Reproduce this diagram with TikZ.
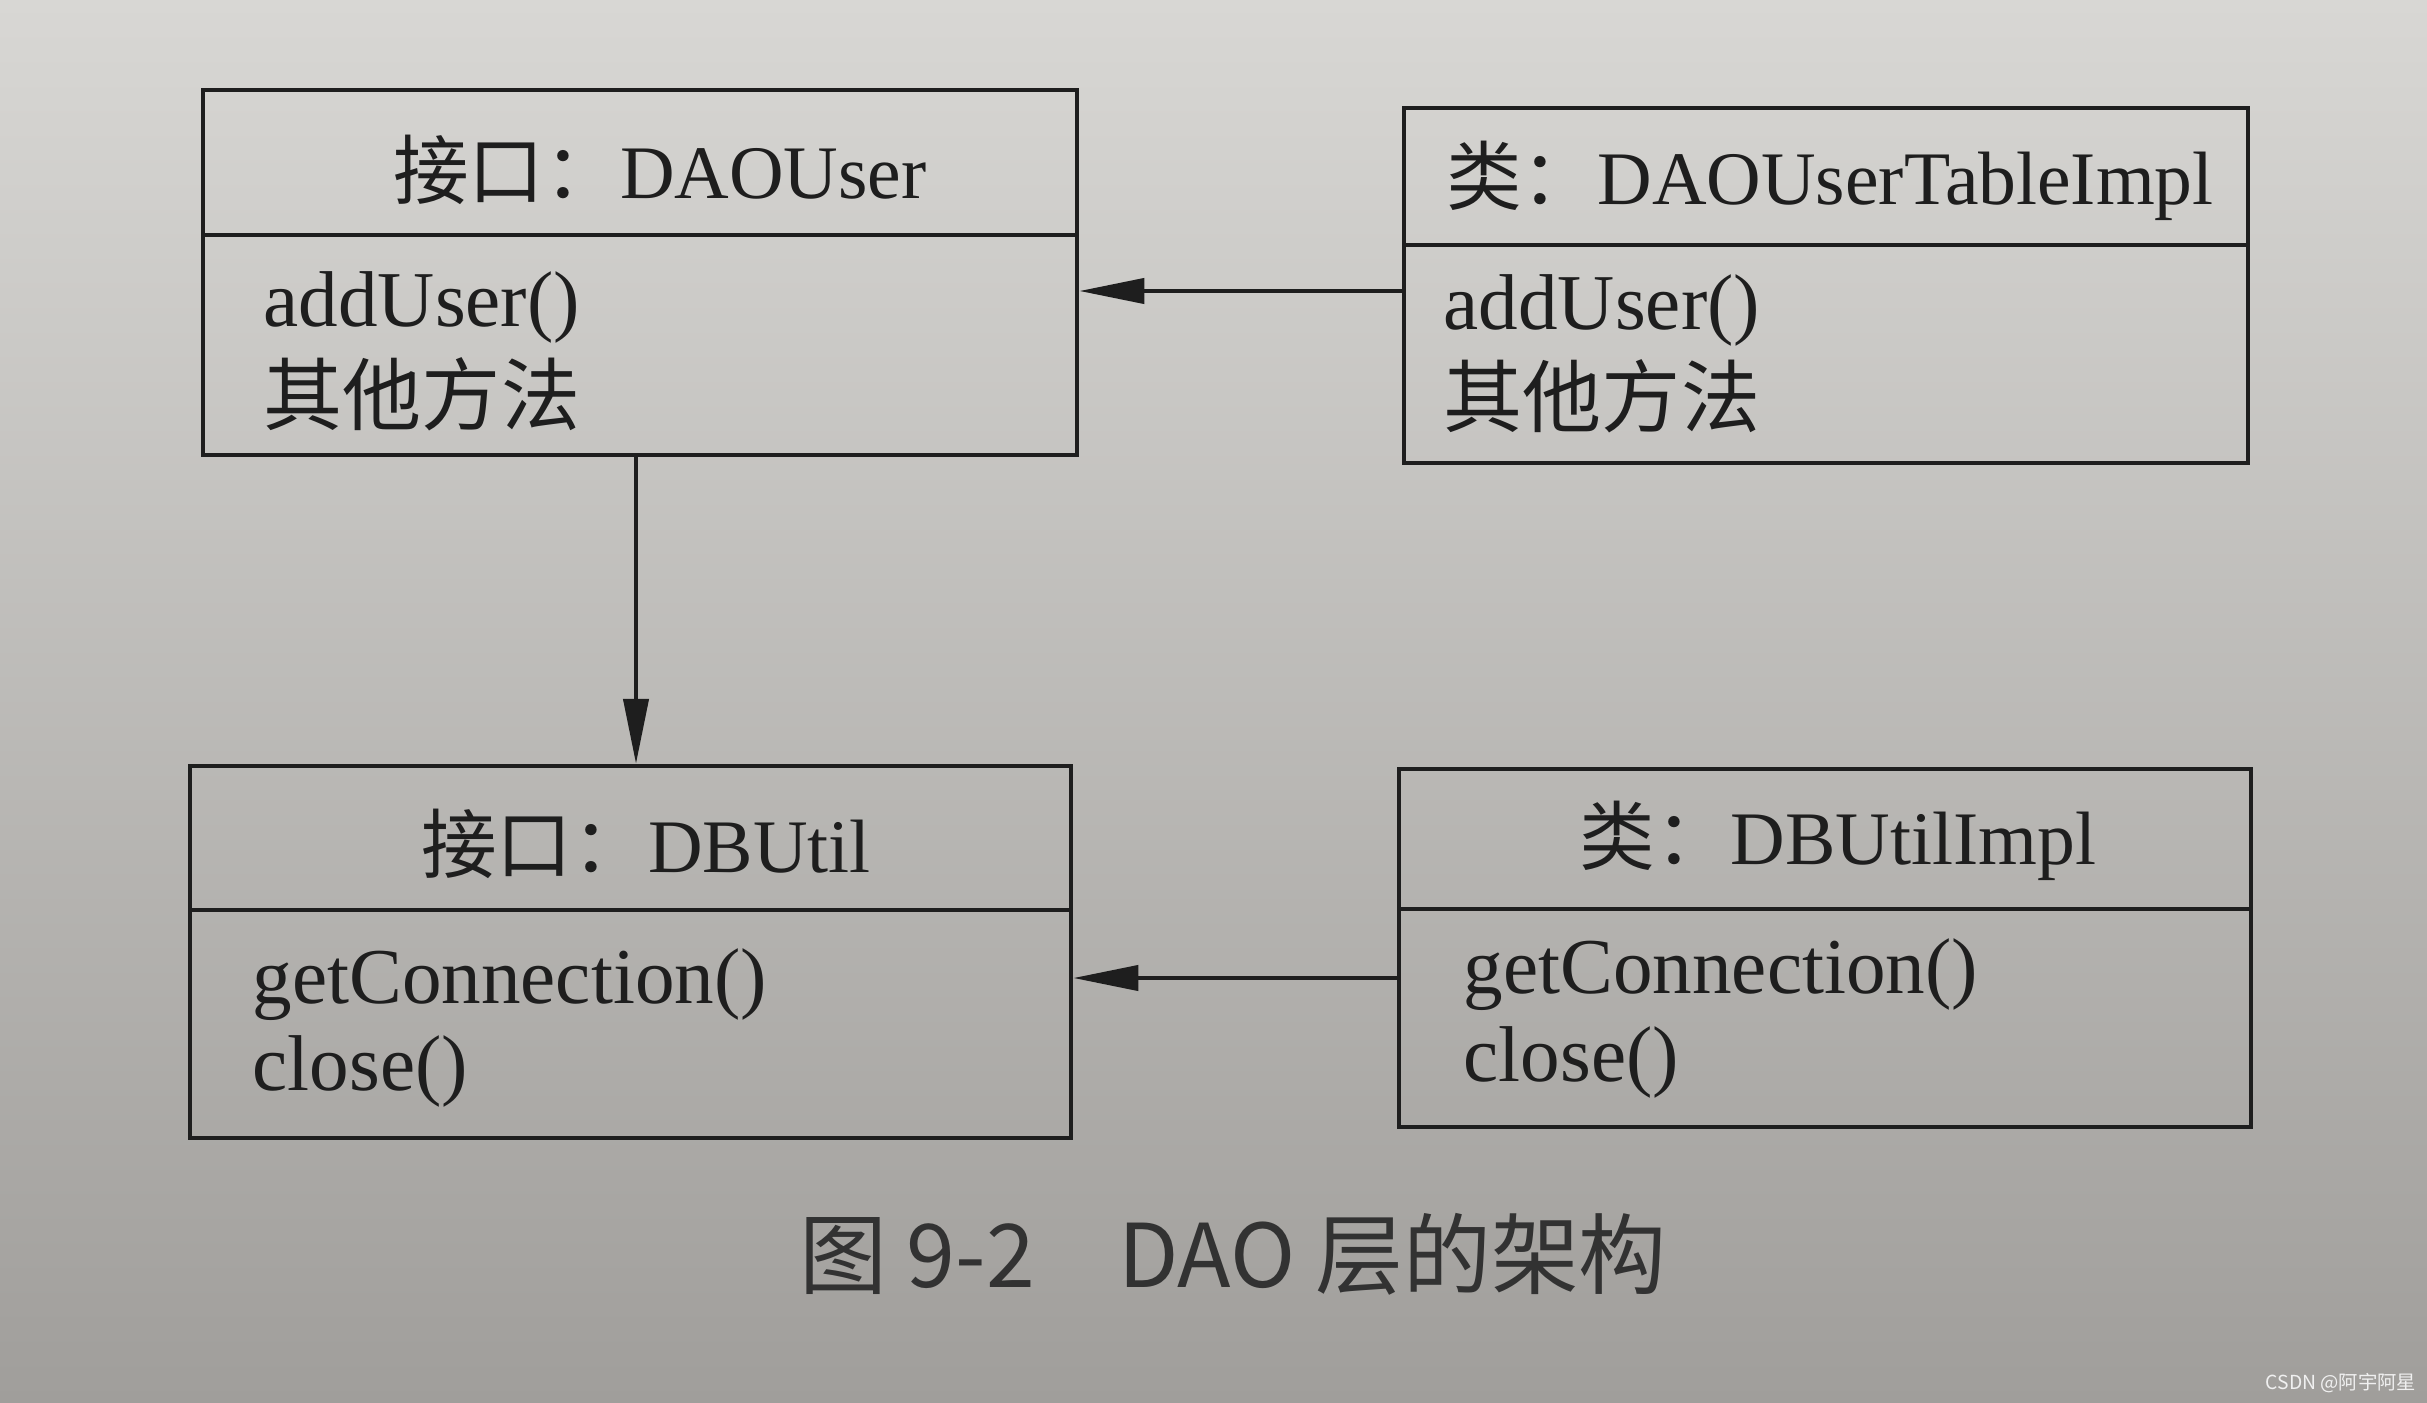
\documentclass[tikz,border=0pt]{standalone}
\usepackage{fontspec}
\setmainfont{Liberation Serif}
\newfontfamily\cjk{Noto Sans CJK SC}
\usetikzlibrary{arrows.meta}
\definecolor{bgtop}{RGB}{216,215,212}
\definecolor{bgbot}{RGB}{160,158,155}
\definecolor{ink}{RGB}{30,30,30}
\definecolor{capink}{RGB}{50,50,50}
\begin{document}
\begin{tikzpicture}[x=0.01cm,y=-0.01cm,
  umlbox/.style={draw=ink,line width=1.2pt,inner sep=0pt},
  title/.style={font=\fontsize{21.5}{26}\selectfont,text=ink,inner sep=0pt,anchor=center},
  body/.style={font=\fontsize{22.5}{26}\selectfont,text=ink,inner sep=0pt,anchor=west},
  conn/.style={draw=ink,line width=1.2pt,-{Triangle[length=0.65cm,width=0.25cm]}}]
\shade[top color=bgtop,bottom color=bgbot] (0,0) rectangle (2427,1403);
\useasboundingbox (0,0) rectangle (2427,1403);
% boxes
\node[umlbox,minimum width=8.74cm,minimum height=3.65cm] (b1) at ({(203+1077)/2},{(90+455)/2}) {};
\node[umlbox,minimum width=8.44cm,minimum height=3.55cm] (b2) at ({(1404+2248)/2},{(108+463)/2}) {};
\node[umlbox,minimum width=8.81cm,minimum height=3.72cm] (b3) at ({(190+1071)/2},{(766+1138)/2}) {};
\node[umlbox,minimum width=8.52cm,minimum height=3.58cm] (b4) at ({(1399+2251)/2},{(769+1127)/2}) {};
% dividers
\coordinate (d1l) at (203,235); \coordinate (d1r) at (1077,235);
\coordinate (d2l) at (1404,245); \coordinate (d2r) at (2248,245);
\coordinate (d3l) at (190,910); \coordinate (d3r) at (1071,910);
\coordinate (d4l) at (1399,909); \coordinate (d4r) at (2251,909);
\draw[draw=ink,line width=1.2pt] (d1l) -- (d1r) (d2l) -- (d2r) (d3l) -- (d3r) (d4l) -- (d4r);
% titles
\node[title] (t1) at (660,170) {{\cjk 接口：}DAOUser};
\node[title] (t2) at (1830,181) {{\cjk 类：}DAOUserTableImpl};
\node[title] (t3) at (646,844) {{\cjk 接口：}DBUtil};
\node[title] (t4) at (1838,841) {{\cjk 类：}DBUtilImpl};
% bodies
\node[body] (m1a) at (263,307) {addUser()};
\node[body] (m1b) at (263,394) {\cjk 其他方法};
\node[body] (m2a) at (1443,310) {addUser()};
\node[body] (m2b) at (1443,396) {\cjk 其他方法};
\node[body] (m3a) at (252,985) {getConnection()};
\node[body] (m3b) at (252,1071) {close()};
\node[body] (m4a) at (1463,975) {getConnection()};
\node[body] (m4b) at (1463,1062) {close()};
% connector levels
\coordinate (ya) at (0,291);
\coordinate (yb) at (0,978);
\coordinate (xv) at (636,0);
% connectors
\draw[conn] (b2.west |- ya) -- (b1.east |- ya);
\draw[conn] (b1.south -| xv) -- (b3.north -| xv);
\draw[conn] (b4.west |- yb) -- (b3.east |- yb);
% caption
\node[font=\cjk\fontsize{25}{29}\selectfont,text=capink,inner sep=0pt] (cap) at (1233,1254) {图 9-2\hspace{0.95em}DAO 层的架构};
% watermark
\node[font=\cjk\fontsize{5.5}{7}\selectfont,text=white!88!gray,inner sep=0pt,anchor=east] (wm) at (2417,1383) {CSDN @阿宇阿星};
\end{tikzpicture}
\end{document}
